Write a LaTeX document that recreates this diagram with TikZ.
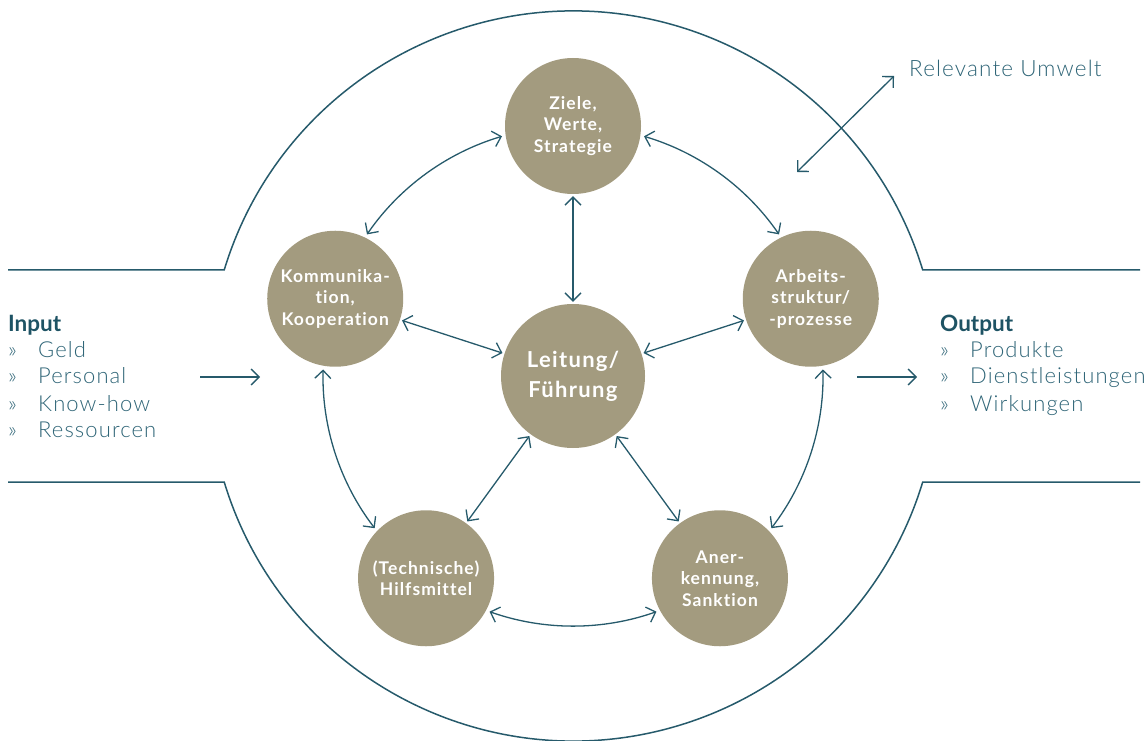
\documentclass[tikz,border=0pt]{standalone}
\usepackage{fontspec}
\setmainfont{Lato}[Ligatures=NoCommon]
\newfontfamily\nodefont{Lato}[LetterSpace=6,Ligatures=NoCommon]
\newfontfamily\lightfont{Lato Light}[LetterSpace=5,Ligatures=NoCommon]
\usetikzlibrary{arrows.meta}
\definecolor{linec}{HTML}{265A6B}
\definecolor{headc}{HTML}{1E5364}
\definecolor{listc}{HTML}{2F6577}
\definecolor{bubble}{HTML}{A39B7F}
\tikzset{
  bub/.style={circle, fill=bubble, minimum size=136pt, inner sep=0pt, text=white, align=center,
    font=\nodefont\bfseries\fontsize{17.5}{21.5}\selectfont},
  conn/.style={draw=linec, line width=1.3pt,
    {Straight Barb[length=8pt,width=16pt]}-{Straight Barb[length=8pt,width=16pt]}},
  oneway/.style={draw=linec, line width=1.3pt, -{Straight Barb[length=8pt,width=16pt]}},
  frame/.style={draw=linec, line width=1.5pt},
  heading/.style={anchor=base west, inner sep=0pt, text=headc, font=\bfseries\fontsize{22.5}{26}\selectfont},
  item/.style={anchor=base west, inner sep=0pt, text=listc, font=\lightfont\fontsize{22}{26}\selectfont},
}
\newcommand{\bul}[1]{\makebox[30pt][l]{»}#1}
\begin{document}
\begin{tikzpicture}[x=1pt,y=1pt]
\useasboundingbox (0,0) rectangle (1148,740);
% outer frame
\draw[frame] (8,470) -- (224.2,470) arc[start angle=163.12, end angle=16.88, radius=365pt] -- (1140,470);
\draw[frame] (8,258) -- (224.2,258) arc[start angle=196.88, end angle=343.12, radius=365pt] -- (1140,258);
\coordinate (C) at (573,364);
% nodes
\node[bub, minimum size=144pt, font=\nodefont\bfseries\fontsize{22}{30}\selectfont] (L) at (C) {Leitung/\\Führung};
\node[bub] (Z) at ([shift={(90:250)}]C) {Ziele,\\Werte,\\Strategie};
\node[bub] (K) at ([shift={(162:250)}]C) {Kommunika-\\tion,\\Kooperation};
\node[bub] (T) at ([shift={(234:250)}]C) {(Technische)\\Hilfsmittel};
\node[bub] (A) at ([shift={(306:250)}]C) {Aner-\\kennung,\\Sanktion};
\node[bub] (R) at ([shift={(18:250)}]C) {Arbeits-\\struktur/\\-prozesse};
% spokes
\draw[conn, shorten <=2pt, shorten >=2pt] (Z) -- (L);
\draw[conn, shorten <=2pt, shorten >=2pt] (K) -- (L);
\draw[conn, shorten <=2pt, shorten >=2pt] (R) -- (L);
\draw[conn, shorten <=2pt, shorten >=2pt] (T) -- (L);
\draw[conn, shorten <=2pt, shorten >=2pt] (A) -- (L);
% ring arcs
\coordinate (zk) at ([shift={(106.5:250)}]C);
\coordinate (kt) at ([shift={(178.5:250)}]C);
\coordinate (ta) at ([shift={(250.5:250)}]C);
\coordinate (ar) at ([shift={(322.5:250)}]C);
\coordinate (rz) at ([shift={(34.5:250)}]C);
\draw[conn] (zk) arc[start angle=106.5, end angle=145.5, radius=250pt];
\draw[conn] (kt) arc[start angle=178.5, end angle=217.5, radius=250pt];
\draw[conn] (ta) arc[start angle=250.5, end angle=289.5, radius=250pt];
\draw[conn] (ar) arc[start angle=322.5, end angle=361.5, radius=250pt];
\draw[conn] (rz) arc[start angle=34.5, end angle=73.5, radius=250pt];
% relevant Umwelt
\coordinate (u1) at (797,568);
\coordinate (u2) at (894,664);
\draw[conn] (u1) -- (u2);
\node[item, font=\lightfont\fontsize{22.5}{26}\selectfont] (umw) at (909,663) {Relevante Umwelt};
% input
\node[heading] (inh) at (8,408) {Input};
\node[item] (in1) at (8,382.5) {\bul{Geld}};
\node[item] (in2) at (8,356) {\bul{Personal}};
\node[item] (in3) at (8,329) {\bul{Know-how}};
\node[item] (in4) at (8,302.5) {\bul{Ressourcen}};
\coordinate (ia) at (200,363);
\coordinate (ib) at (260,363);
\draw[oneway] (ia) -- (ib);
% output
\node[heading] (outh) at (940,408) {Output};
\node[item] (out1) at (940,383) {\bul{Produkte}};
\node[item] (out2) at (940,356) {\bul{Dienstleistungen}};
\node[item] (out3) at (940,329) {\bul{Wirkungen}};
\coordinate (oa) at (857,363);
\coordinate (ob) at (917,363);
\draw[oneway] (oa) -- (ob);
\end{tikzpicture}
\end{document}
